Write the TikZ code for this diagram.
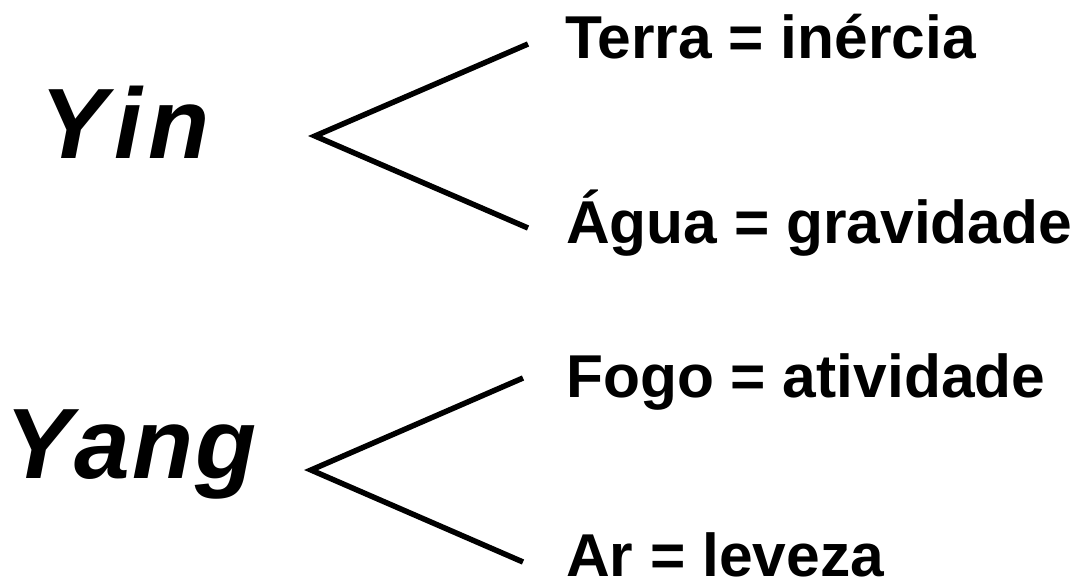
\documentclass[tikz,border=0pt]{standalone}
\usepackage{fontspec}
\setmainfont{Liberation Sans}
\begin{document}
\begin{tikzpicture}[x=1pt,y=-1pt,
  label/.style={anchor=base west,inner sep=0pt,font=\bfseries\fontsize{60.5}{61}\selectfont},
  pole/.style={anchor=base west,inner sep=0pt,font=\bfseries\itshape\fontsize{100}{100}\selectfont},
  fork/.style={line width=5.5pt,line join=miter}]
  \fill[white] (0,0) rectangle (1077,582);
  \useasboundingbox (0,0) rectangle (1077,582);

  % Yin and its two elements
  \node[pole] (yin) at (40,158) {Y\kern8pt i\kern6pt n};
  \coordinate (yinfork) at (315,136);
  \coordinate (yinup) at (528,44);
  \coordinate (yindown) at (528,228);
  \node[label] (terra) at (565,58) {Terra = inércia};
  \node[label] (agua) at (566,243) {Água = gravidade};
  \draw[fork] (yinup) -- (yinfork) -- (yindown);

  % Yang and its two elements
  \node[pole] (yang) at (5,478) {Y\kern3pt a\kern2pt n\kern2pt g};
  \coordinate (yangfork) at (311,470);
  \coordinate (yangup) at (523,378);
  \coordinate (yangdown) at (523,562);
  \node[label] (fogo) at (566,397) {Fogo = atividade};
  \node[label] (ar) at (566,576) {Ar = leveza};
  \draw[fork] (yangup) -- (yangfork) -- (yangdown);
\end{tikzpicture}
\end{document}
